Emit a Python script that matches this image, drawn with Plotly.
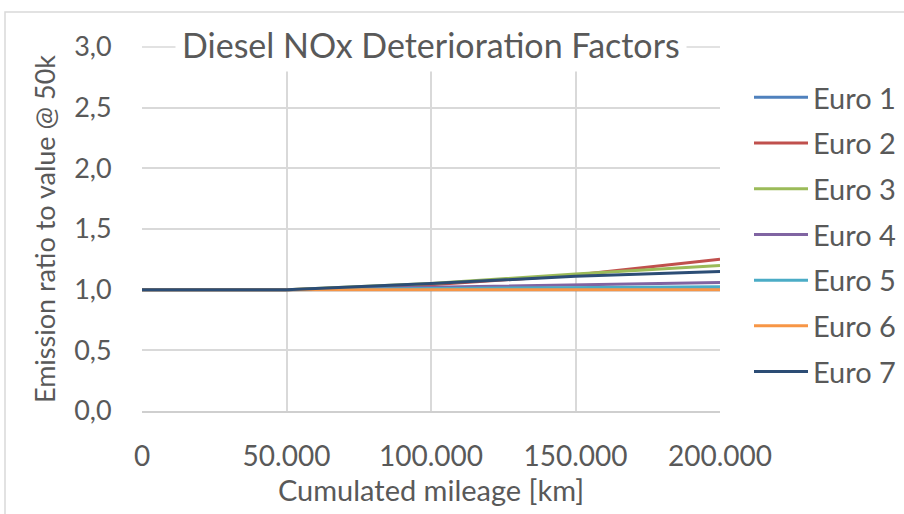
import plotly.graph_objects as go

mileage = [0, 50000, 100000, 150000, 200000]
series_names = ["Euro 1", "Euro 2", "Euro 3", "Euro 4", "Euro 5", "Euro 6", "Euro 7"]
euro1 = [1.0, 1.0, 1.0, 1.0, 1.0]
euro2 = [1.0, 1.0, 1.04, 1.12, 1.25]
euro3 = [1.0, 1.0, 1.05, 1.13, 1.20]
euro4 = [1.0, 1.0, 1.02, 1.04, 1.06]
euro5 = [1.0, 1.0, 1.01, 1.02, 1.025]
euro6 = [1.0, 1.0, 1.0, 1.0, 1.0]
euro7 = [1.0, 1.0, 1.05, 1.11, 1.15]
series_values = [euro1, euro2, euro3, euro4, euro5, euro6, euro7]
colors = ["#4F81BD", "#C0504D", "#9BBB59", "#8064A2", "#4BACC6", "#F79646", "#2C4D75"]

x_ticks = [0, 50000, 100000, 150000, 200000]
y_ticks = [0, 0.5, 1.0, 1.5, 2.0, 2.5, 3.0]

FONT = "Lato"
TXT = "#595959"
GRID = "#d9d9d9"

fig = go.Figure()
for i, (name, vals) in enumerate(zip(series_names, series_values)):
    fig.add_trace(go.Scatter(x=mileage, y=vals, name=name, mode="lines",
                             line=dict(color=colors[i], width=3),
                             legendgroup=name))

L, R, T, B = 142, 184, 47, 103
W, H = 904, 514
pw, ph = W - L - R, H - T - B

fig.update_layout(
    width=W, height=H,
    margin=dict(l=L, r=R, t=T, b=B, autoexpand=False),
    paper_bgcolor="white", plot_bgcolor="white",
    separators=",.",
    font=dict(family=FONT, color=TXT, size=27),
    showlegend=True,
    legend=dict(x=(749 - L) / pw, xanchor="left", y=(H - B - 72) / ph, yanchor="top",
                font=dict(size=29, color=TXT, family=FONT),
                tracegroupgap=5, itemwidth=54, bgcolor="rgba(0,0,0,0)"),
    xaxis=dict(range=[0, 200000], tickvals=x_ticks, tickformat=",d",
               showgrid=True, gridcolor=GRID, gridwidth=1.5,
               showline=True, linecolor="#cfcfcf", linewidth=1.5, mirror=False,
               zeroline=False, ticks="outside", ticklen=20, tickcolor="rgba(0,0,0,0)",
               tickfont=dict(size=28, color=TXT, family=FONT),
               title=dict(text="Cumulated mileage [km]", font=dict(size=29, color=TXT, family=FONT), standoff=2)),
    yaxis=dict(range=[0, 3.0], tickvals=y_ticks, tickformat=".1f",
               showgrid=True, gridcolor=GRID, gridwidth=1.5,
               zeroline=False, ticks="outside", ticklen=24, tickcolor="rgba(0,0,0,0)",
               tickfont=dict(size=27, color=TXT, family=FONT),
               title=dict(text="Emission ratio to value @ 50k", font=dict(size=27, color=TXT, family=FONT), standoff=10)),
    shapes=[
        dict(type="line", xref="paper", yref="paper", x0=0, x1=1, y0=1, y1=1,
             line=dict(color=GRID, width=1.5), layer="below"),
        dict(type="rect", xref="paper", yref="paper",
             x0=(5 - L) / pw, x1=(W + 20 - L) / pw,
             y0=(H - B - (H + 20)) / ph, y1=(H - B - 12) / ph,
             line=dict(color=GRID, width=1.5), fillcolor="rgba(0,0,0,0)", layer="below"),
    ],
    annotations=[dict(text="Diesel NOx Deterioration Factors", xref="paper", yref="paper",
                      x=0.5, y=1.0, xanchor="center", yanchor="middle", yshift=3,
                      showarrow=False, bgcolor="white", borderpad=6,
                      font=dict(size=34, color=TXT, family=FONT))],
)

fig.write_html("out.html")
